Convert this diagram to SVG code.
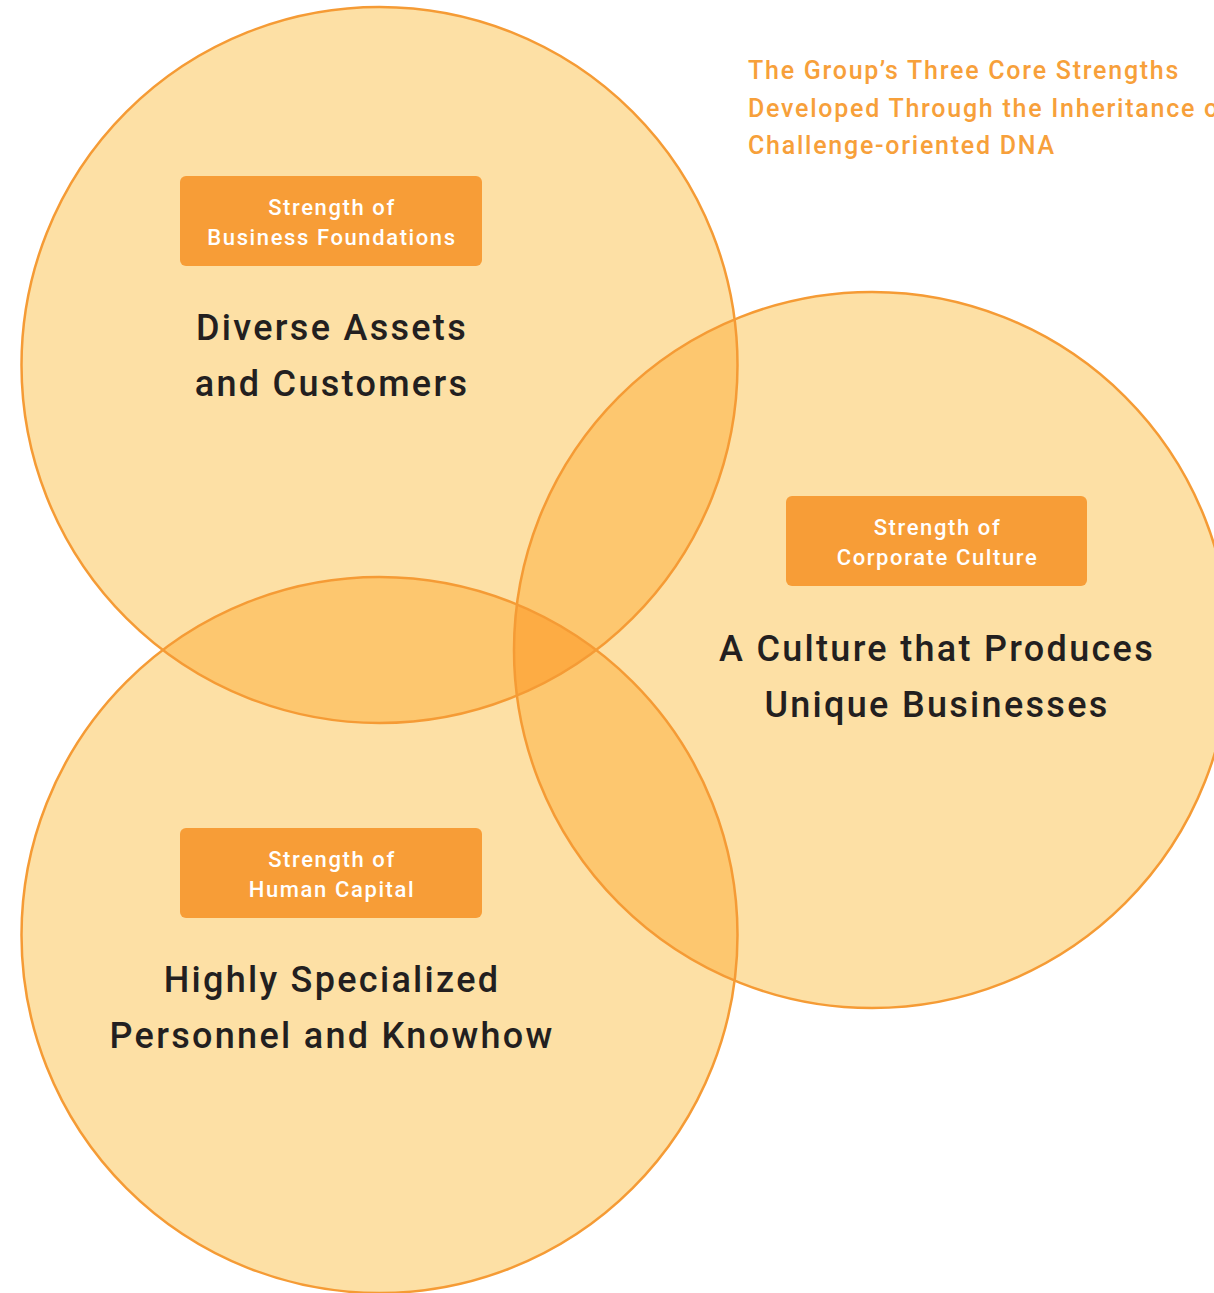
<svg xmlns="http://www.w3.org/2000/svg" width="1214" height="1293" viewBox="0 0 1214 1293">
<style>
.fill1{fill:#FDE0A5;}
.fill2{fill:#FDC76F;}
.fill3{fill:#FDAC44;}
.ring{fill:none;stroke:#F59B35;stroke-width:2.5;}
.box{fill:#F79D37;}
.boxt{font-family:Roboto,"Liberation Sans",sans-serif;font-weight:500;font-size:22px;letter-spacing:1.6px;fill:#FFFFFF;text-anchor:middle;}
.big{font-family:Roboto,"Liberation Sans",sans-serif;font-weight:500;font-size:36px;letter-spacing:2.3px;fill:#231F20;text-anchor:middle;}
.title{font-family:Roboto,"Liberation Sans",sans-serif;font-weight:500;font-size:25px;letter-spacing:1.75px;fill:#F7A03A;}
</style>
<defs>
<clipPath id="c1"><circle cx="379.5" cy="365" r="358"/></clipPath>
<clipPath id="c2"><circle cx="872" cy="650" r="358"/></clipPath>
</defs>
<rect width="1214" height="1293" fill="#FFFFFF"/>
<g id="fills">
<circle class="fill1" cx="379.5" cy="365" r="358"/>
<circle class="fill1" cx="872" cy="650" r="358"/>
<circle class="fill1" cx="379.5" cy="935" r="358"/>
<circle class="fill2" cx="872" cy="650" r="358" clip-path="url(#c1)"/>
<circle class="fill2" cx="379.5" cy="935" r="358" clip-path="url(#c1)"/>
<circle class="fill2" cx="379.5" cy="935" r="358" clip-path="url(#c2)"/>
<g clip-path="url(#c1)"><circle class="fill3" cx="379.5" cy="935" r="358" clip-path="url(#c2)"/></g>
</g>
<g id="connectors"/>
<g id="node-business">
<circle class="ring" cx="379.5" cy="365" r="358"/>
<rect class="box" x="180" y="176" width="302" height="90" rx="6"/>
<text class="boxt" x="332" y="215">Strength of</text>
<text class="boxt" x="332" y="245">Business Foundations</text>
<text class="big" x="332" y="340">Diverse Assets</text>
<text class="big" x="332" y="396">and Customers</text>
</g>
<g id="node-culture">
<circle class="ring" cx="872" cy="650" r="358"/>
<rect class="box" x="786" y="496" width="301" height="90" rx="6"/>
<text class="boxt" x="937.5" y="535">Strength of</text>
<text class="boxt" x="937.5" y="565">Corporate Culture</text>
<text class="big" x="937" y="661">A Culture that Produces</text>
<text class="big" x="937" y="717">Unique Businesses</text>
</g>
<g id="node-human">
<circle class="ring" cx="379.5" cy="935" r="358"/>
<rect class="box" x="180" y="828" width="302" height="90" rx="6"/>
<text class="boxt" x="332" y="867">Strength of</text>
<text class="boxt" x="332" y="897">Human Capital</text>
<text class="big" x="332" y="992">Highly Specialized</text>
<text class="big" x="332" y="1048">Personnel and Knowhow</text>
</g>
<g id="title">
<text class="title" x="748" y="79">The Group’s Three Core Strengths</text>
<text class="title" x="748" y="117">Developed Through the Inheritance of</text>
<text class="title" x="748" y="154">Challenge-oriented DNA</text>
</g>
</svg>
